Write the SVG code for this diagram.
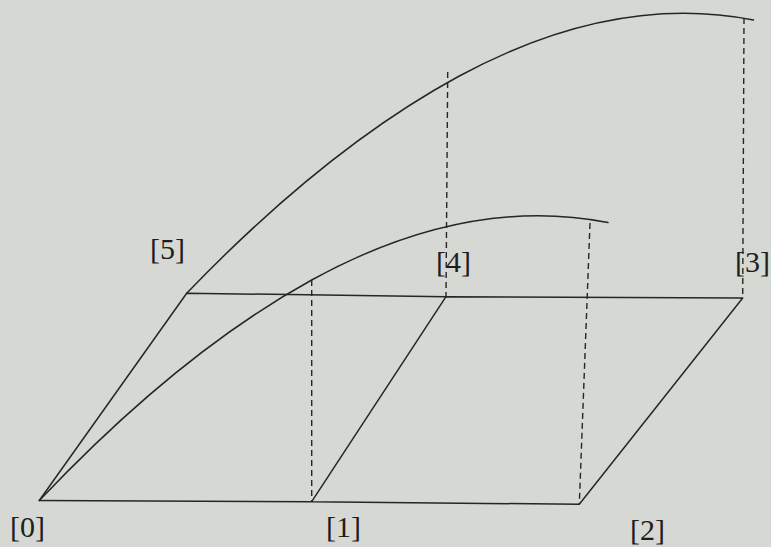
<svg xmlns="http://www.w3.org/2000/svg" width="771" height="547" viewBox="0 0 771 547">
<style>
.bg{fill:#d6d8d4}
.ln{fill:none;stroke:#262626;stroke-width:1.5;stroke-linejoin:round;stroke-linecap:round}
.dash{fill:none;stroke:#262626;stroke-width:1.4;stroke-dasharray:6 4}
.lbl{font-family:"Liberation Serif","Times New Roman",serif;font-size:30px;fill:#1e1e1e}
</style>
<rect class="bg" x="0" y="0" width="771" height="547"/>
<g id="connectors">
<path class="ln" d="M39.3,500.5 L311.7,501.7 L579.3,504.3 L742.7,298 L446,296.7 L311.7,501.7"/>
<path class="ln" d="M446,296.7 L186.7,293.2 L39.3,500.5"/>
<path class="ln" d="M39.3,500.5 C130.1,404.7 220.9,330 311.7,280 C410.1,225.9 508.6,203 608,222.5"/>
<path class="ln" d="M186.7,293.2 C277.3,199.2 367.8,125.7 458.4,76.5 C556.6,23.3 654.8,0.8 753.5,20"/>
<line class="dash" x1="311.7" y1="280" x2="311.7" y2="501.7"/>
<line class="dash" x1="447.7" y1="72" x2="446" y2="296.7"/>
<line class="dash" x1="590" y1="223" x2="579.3" y2="504.3"/>
<line class="dash" x1="744" y1="18" x2="742.7" y2="298"/>
</g>
<g id="node0"><text class="lbl" x="10" y="537">[0]</text></g>
<g id="node1"><text class="lbl" x="326" y="537">[1]</text></g>
<g id="node2"><text class="lbl" x="630" y="540">[2]</text></g>
<g id="node3"><text class="lbl" x="735" y="272">[3]</text></g>
<g id="node4"><text class="lbl" x="436" y="272">[4]</text></g>
<g id="node5"><text class="lbl" x="150" y="259">[5]</text></g>
</svg>
